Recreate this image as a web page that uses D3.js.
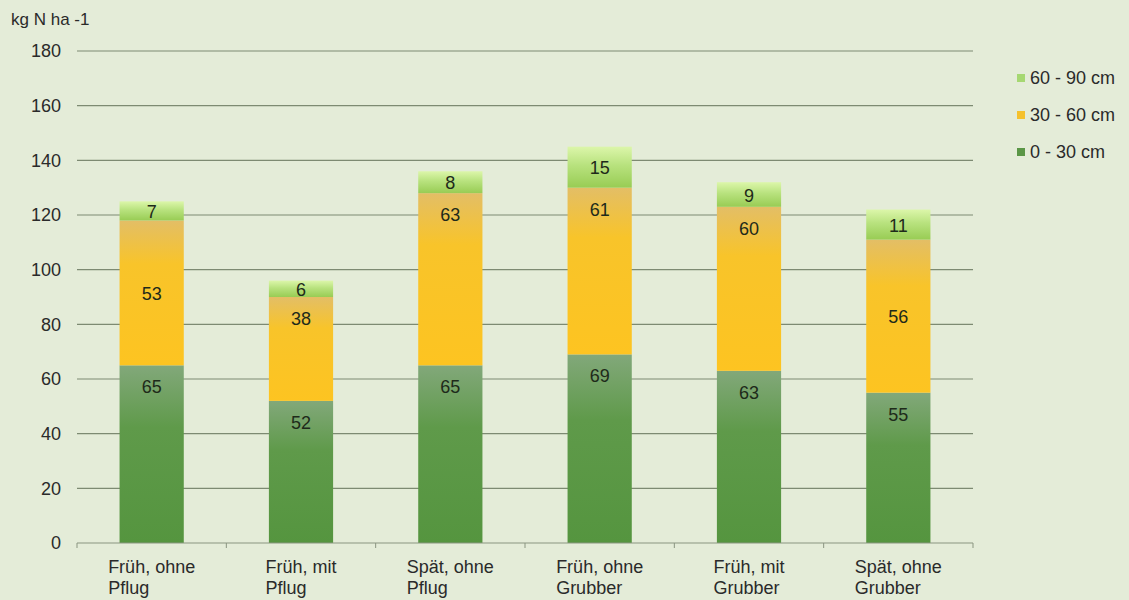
<!DOCTYPE html>
<html>
<head>
<meta charset="utf-8">
<script src="https://cdn.jsdelivr.net/npm/d3@7/dist/d3.min.js"></script>
<style>
  body { margin: 0; background: #e4ecd8; }
  svg { display: block; font-family: "Liberation Sans", Arial, sans-serif; }
  .grid line { stroke: #7d8a72; stroke-width: 1.2; }
  .axis path, .axis line { stroke: #8a9580; }
  .tick text { fill: #2a2a2a; font-size: 18px; }
  .val { fill: #1e2a1a; font-size: 18px; text-anchor: middle; }
</style>
</head>
<body>
<script>
// categories (two-line labels)
var categories = [
  ["Früh, ohne", "Pflug"],
  ["Früh, mit", "Pflug"],
  ["Spät, ohne", "Pflug"],
  ["Früh, ohne", "Grubber"],
  ["Früh, mit", "Grubber"],
  ["Spät, ohne", "Grubber"]
];
// series values, kg N / ha
var s0_30 = [65, 52, 65, 69, 63, 55];
var s30_60 = [53, 38, 63, 61, 60, 56];
var s60_90 = [7, 6, 8, 15, 9, 11];
var seriesNames = ["0 - 30 cm", "30 - 60 cm", "60 - 90 cm"];
var yTicks = [0, 20, 40, 60, 80, 100, 120, 140, 160, 180];
// label placement of the middle series, as set per label in the original
var midLabelPlace = ["center", "end", "end", "end", "end", "center"];

var width = 1129, height = 600;
var margin = {left: 77, right: 156, top: 51, bottom: 57};

var svg = d3.select("body").append("svg")
    .attr("width", width)
    .attr("height", height);

var defs = svg.append("defs");
function grad(id, stops){
    var g = defs.append("linearGradient").attr("id", id)
        .attr("x1", 0).attr("y1", 0).attr("x2", 0).attr("y2", 1);
    stops.forEach(function(s){
        g.append("stop").attr("offset", s[0]).attr("stop-color", s[1]);
    });
}
grad("gGreen", [[0, "#82a87a"], [0.35, "#5f9a4a"], [1, "#55953f"]]);
grad("gYellow", [[0, "#e3be66"], [0.3, "#f8c42a"], [1, "#fdc421"]]);
grad("gLight", [[0, "#dcf6aa"], [0.45, "#b8e27e"], [1, "#98cc54"]]);
var fills = ["url(#gGreen)", "url(#gYellow)", "url(#gLight)"];
var legendColors = ["#5a9646", "#f5c12e", "#a6d872"];

var x = d3.scaleBand()
    .domain(d3.range(categories.length))
    .range([margin.left, width - margin.right])
    .paddingInner(0.57)
    .paddingOuter(0.285);

var y = d3.scaleLinear()
    .domain([0, 180])
    .range([height - margin.bottom, margin.top]);

// gridlines
svg.append("g").attr("class", "grid")
    .selectAll("line")
    .data(yTicks.slice(1))
    .enter().append("line")
    .attr("x1", margin.left).attr("x2", width - margin.right)
    .attr("y1", function(d){ return y(d); })
    .attr("y2", function(d){ return y(d); });

// y axis labels
var yAxis = svg.append("g").attr("class", "axis")
    .attr("transform", "translate(" + margin.left + ",0)")
    .call(d3.axisLeft(y).tickValues(yTicks).tickSize(0).tickPadding(16));
yAxis.select(".domain").remove();

svg.append("text")
    .attr("x", 11).attr("y", 25)
    .attr("fill", "#2a2a2a").style("font-size", "17px")
    .text("kg N ha -1");

// stacked data
var rows = categories.map(function(c, i){
    return {i: i, v: [s0_30[i], s30_60[i], s60_90[i]]};
});
var stack = d3.stack().keys([0, 1, 2]).value(function(d, k){ return d.v[k]; });
var layers = stack(rows);

var bars = svg.append("g");
layers.forEach(function(layer, k){
    bars.selectAll(".s" + k)
        .data(layer)
        .enter().append("rect")
        .attr("x", function(d, i){ return x(i); })
        .attr("width", x.bandwidth())
        .attr("y", function(d){ return y(d[1]); })
        .attr("height", function(d){ return y(d[0]) - y(d[1]); })
        .attr("fill", fills[k]);
});

// value labels
layers.forEach(function(layer, k){
    bars.selectAll(".l" + k)
        .data(layer)
        .enter().append("text")
        .attr("class", "val")
        .attr("x", function(d, i){ return x(i) + x.bandwidth() / 2; })
        .attr("y", function(d, i){
            var top = y(d[1]), bot = y(d[0]);
            var centered = (k === 2) || (k === 1 && midLabelPlace[i] === "center");
            return centered ? (top + bot) / 2 + 7 : top + 28;
        })
        .text(function(d, i){ return rows[i].v[k]; });
});

// x axis
var xg = svg.append("g").attr("class", "axis");
xg.append("line")
    .attr("x1", margin.left).attr("x2", width - margin.right)
    .attr("y1", y(0)).attr("y2", y(0));
var bounds = d3.range(categories.length + 1).map(function(i){
    return margin.left + i * x.step();
});
xg.selectAll(".xt").data(bounds).enter().append("line")
    .attr("x1", function(d){ return d; }).attr("x2", function(d){ return d; })
    .attr("y1", y(0)).attr("y2", y(0) + 5);

xg.selectAll(".cat").data(categories).enter().append("text")
    .attr("fill", "#2a2a2a").style("font-size", "18px")
    .each(function(c, i){
        var t = d3.select(this);
        var cx = x(i) + x.bandwidth() / 2;
        var l1 = t.append("tspan").text(c[0]).attr("y", y(0) + 30);
        var w = l1.node().getComputedTextLength();
        l1.attr("x", cx - w / 2);
        t.append("tspan").text(c[1]).attr("x", cx - w / 2).attr("y", y(0) + 51);
    });

// legend
var legend = svg.append("g");
[2, 1, 0].forEach(function(k, j){
    var ly = 78 + j * 37;
    legend.append("rect")
        .attr("x", 1017).attr("y", ly - 4).attr("width", 8).attr("height", 8)
        .attr("fill", legendColors[k]);
    legend.append("text")
        .attr("x", 1030).attr("y", ly + 6)
        .attr("fill", "#2a2a2a").style("font-size", "18px")
        .text(seriesNames[k]);
});
</script>
</body>
</html>
